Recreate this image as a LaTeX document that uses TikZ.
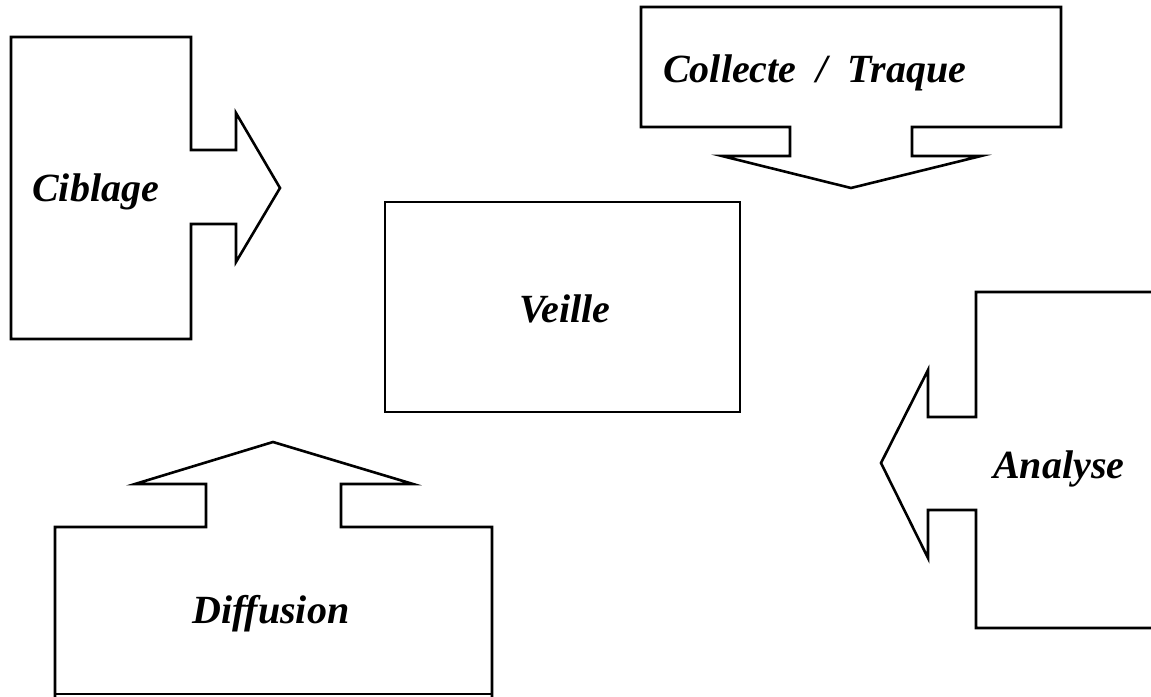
\documentclass[tikz,border=0pt]{standalone}
\usepackage{fontspec}
\setmainfont{Liberation Serif}
\begin{document}
\begin{tikzpicture}[x=1pt,y=-1pt,
  shapeline/.style={draw=black,line width=2.6pt,line join=miter},
  lbl/.style={anchor=base west,inner sep=0pt,font=\fontsize{40}{45}\selectfont\bfseries\itshape}]
\useasboundingbox (0,0) rectangle (1151,696);
\clip (0,0) rectangle (1151,696);
% Ciblage (arrow right)
\draw[shapeline] (11,37) -- (191,37) -- (191,150) -- (236,150) -- (236,113) -- (280,188)
  -- (236,262) -- (236,224) -- (191,224) -- (191,339) -- (11,339) -- cycle;
% Collecte / Traque (arrow down)
\draw[shapeline] (641,7) -- (1061,7) -- (1061,127) -- (912,127) -- (912,156) -- (981,156)
  -- (851,188) -- (722,156) -- (790,156) -- (790,127) -- (641,127) -- cycle;
% Veille
\draw[shapeline] (385,202) rectangle (740,412);
% Analyse (arrow left)
\draw[shapeline] (1170,292) -- (976,292) -- (976,417) -- (928,417) -- (928,370) -- (881,463)
  -- (928,558) -- (928,510) -- (976,510) -- (976,628) -- (1170,628);
% Diffusion (arrow up)
\draw[shapeline] (55,705) -- (55,527) -- (206,527) -- (206,484) -- (135,484) -- (273,442)
  -- (413,484) -- (341,484) -- (341,527) -- (492,527) -- (492,705);
\draw[shapeline] (55,694) -- (492,694);
\node[lbl] (ciblage) at (32,201) {Ciblage};
\node[lbl] (collecte) at (663,82) {Collecte\ \ /\ \ Traque};
\node[lbl] (veille) at (519,322) {Veille};
\node[lbl] (analyse) at (993,478) {Analyse};
\node[lbl] (diffusion) at (192,623) {Diffusion};
\end{tikzpicture}
\end{document}
